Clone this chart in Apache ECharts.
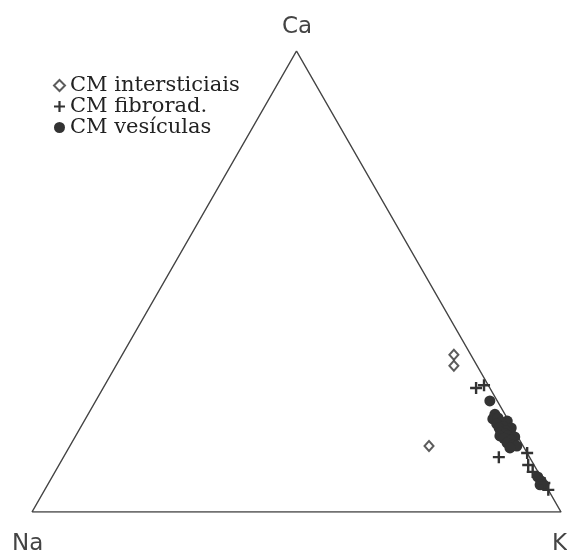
<!DOCTYPE html>
<html>
<head>
<meta charset="utf-8">
<script src="https://cdn.jsdelivr.net/npm/echarts@6/dist/echarts.min.js"></script>
<style>
  html, body { margin: 0; padding: 0; background: #fff; }
  #chart { width: 567px; height: 557px; }
</style>
</head>
<body>
<div id="chart"></div>
<script>
// Ternary compositions in percent: [Na, K, Ca]
const vertexLabels = ['Na', 'K', 'Ca'];

const intersticiais = [
  [3.2, 62.7, 34.1],
  [4.4, 63.9, 31.7],
  [17.8, 67.9, 14.3]
];

const fibrorad = [
  [2.6, 70.5, 26.9],
  [0.8, 71.7, 27.5],
  [5.8, 82.3, 11.9],
  [0.0, 87.2, 12.8],
  [1.1, 88.7, 10.2],
  [1.0, 90.3, 8.7],
  [0.0, 93.7, 6.3],
  [0.0, 95.2, 4.8]
];

const vesiculas = [
  [1.4, 74.5, 24.1],
  [1.9, 76.9, 21.2],
  [2.8, 77.1, 20.2],
  [1.7, 77.9, 20.4],
  [0.3, 79.9, 19.7],
  [1.6, 78.9, 19.5],
  [2.6, 78.3, 19.1],
  [1.7, 79.8, 18.5],
  [0.3, 81.4, 18.2],
  [2.6, 79.2, 18.2],
  [1.6, 80.8, 17.6],
  [2.7, 80.0, 17.3],
  [2.1, 81.0, 16.9],
  [3.3, 80.2, 16.5],
  [1.8, 81.7, 16.5],
  [0.6, 83.2, 16.3],
  [2.8, 81.2, 16.0],
  [1.6, 82.8, 15.6],
  [2.7, 82.3, 15.0],
  [1.8, 83.7, 14.5],
  [1.2, 84.5, 14.3],
  [2.7, 83.4, 13.9],
  [0.6, 91.8, 7.6],
  [0.4, 92.9, 6.7],
  [0.3, 93.8, 5.9],
  [1.0, 93.1, 5.9]
];

const seriesNames = ['CM intersticiais', 'CM fibrorad.', 'CM vesículas'];

// Ternary -> cartesian (Na at origin, K at (1,0), Ca at apex)
const H = Math.sqrt(3) / 2;
function toXY(row) {
  const s = row[0] + row[1] + row[2];
  const k = row[1] / s, ca = row[2] / s;
  return [k + ca / 2, ca * H];
}

const triangle = [[100, 0, 0], [0, 100, 0], [0, 0, 100], [100, 0, 0]].map(toXY);

const ink = '#333';
const plusPath = 'path://M4,0h2v4h4v2h-4v4h-2v-4h-4v-2h4z';

const chart = echarts.init(document.getElementById('chart'), null, { renderer: 'canvas' });
chart.setOption({
  animation: false,
  backgroundColor: '#fff',
  grid: { left: 32, top: 51, width: 529, height: 461, containLabel: false },
  xAxis: { type: 'value', min: 0, max: 1, show: false },
  yAxis: { type: 'value', min: 0, max: H, show: false },
  legend: {
    orient: 'vertical',
    left: 48,
    top: 70,
    itemGap: 0,
    itemWidth: 11,
    itemHeight: 11,
    data: seriesNames,
    textStyle: { fontFamily: 'DejaVu Serif', fontSize: 21, color: '#222' }
  },
  graphic: [
    { type: 'text', left: 282, top: 16, style: { text: vertexLabels[2], font: '23px "DejaVu Sans"', fill: '#444' } },
    { type: 'text', left: 12, top: 533, style: { text: vertexLabels[0], font: '23px "DejaVu Sans"', fill: '#444' } },
    { type: 'text', left: 552, top: 533, style: { text: vertexLabels[1], font: '23px "DejaVu Sans"', fill: '#444' } }
  ],
  series: [
    {
      type: 'line',
      data: triangle,
      symbol: 'none',
      silent: true,
      lineStyle: { color: '#444', width: 1.5 },
      z: 1
    },
    {
      name: seriesNames[0],
      type: 'scatter',
      data: intersticiais.map(toXY),
      symbol: 'emptyDiamond',
      symbolSize: [9, 10],
      itemStyle: { color: ink, borderColor: ink, borderWidth: 1.5 },
      z: 3
    },
    {
      name: seriesNames[1],
      type: 'scatter',
      data: fibrorad.map(toXY),
      symbol: plusPath,
      symbolSize: 12,
      itemStyle: { color: ink, opacity: 1 },
      z: 3
    },
    {
      name: seriesNames[2],
      type: 'scatter',
      data: vesiculas.map(toXY),
      symbol: 'circle',
      symbolSize: 11,
      itemStyle: { color: ink, opacity: 1 },
      z: 2
    }
  ]
});
</script>
</body>
</html>
